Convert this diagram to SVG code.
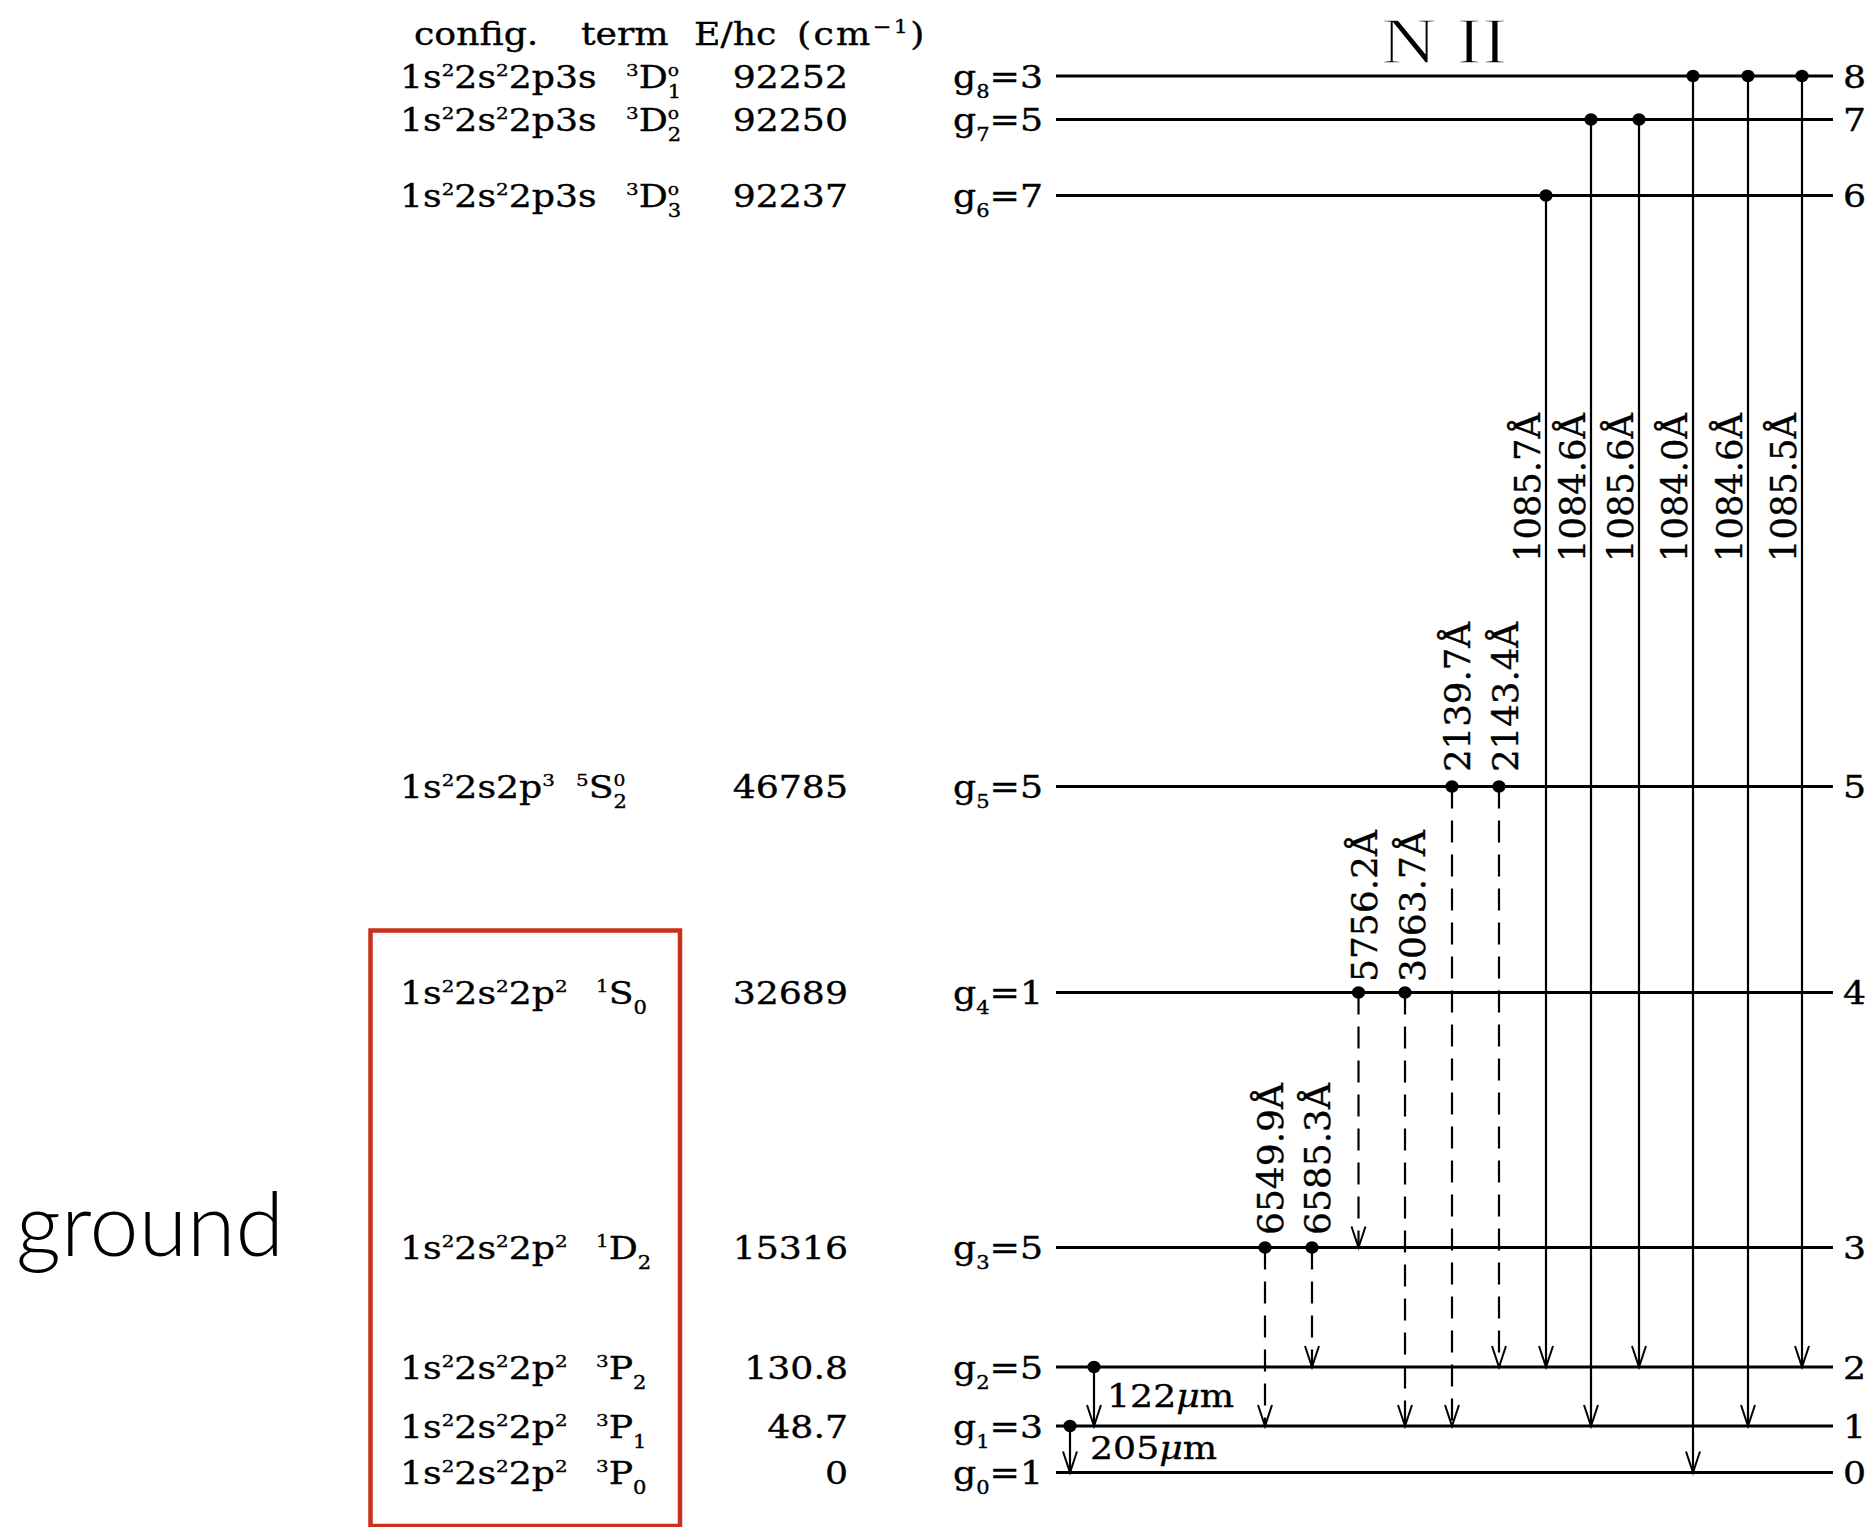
<svg xmlns="http://www.w3.org/2000/svg" width="1875" height="1527" viewBox="0 0 1875 1527">
<style>
.t{font-family:"DejaVu Serif",serif;font-size:31px;fill:#000;stroke:#000;stroke-width:0.35}
.sp{font-size:17px}
.sb{font-size:18px}
.so{font-size:16px}
.lv{stroke:#000;stroke-width:2.8;fill:none}
.tr{stroke:#000;stroke-width:2.2;fill:none;marker-end:url(#ah)}
.ds{stroke-dasharray:22 12}
.dot{fill:#000}
.wl{font-family:"DejaVu Serif",serif;font-size:31px;fill:#000;stroke:#000;stroke-width:0.3}
</style>
<defs>
<marker id="ah" markerUnits="userSpaceOnUse" markerWidth="30" markerHeight="30" refX="0" refY="0" orient="auto" viewBox="-25 -10 30 20" overflow="visible">
<path d="M-21,-7 L0,0 L-21,7" fill="none" stroke="#000" stroke-width="2" stroke-dasharray="none"/>
</marker>
</defs>
<rect width="1875" height="1527" fill="#fff"/>

<text x="16" y="1256" font-family="Lato,'Open Sans',sans-serif" font-weight="300" font-size="88" fill="#000">ground</text>
<rect x="370.5" y="930.5" width="309.5" height="595.5" fill="none" stroke="#c8311c" stroke-width="4.5"/>

<text transform="matrix(1.19 0 0 1 1381 63)" font-family="'Liberation Serif',serif" font-size="65" fill="#000" stroke="#fff" stroke-width="1.6">N II</text>

<g id="header">
<text class="t" transform="matrix(1.17 0 0 1 414 45)">config.</text>
<text class="t" transform="matrix(1.17 0 0 1 581 45)">term</text>
<text class="t" transform="matrix(1.17 0 0 1 694 45)">E/hc</text>
<text class="t" letter-spacing="2" transform="matrix(1.17 0 0 1 797 45)">(cm<tspan font-size="19px" dy="-12">−1</tspan><tspan dy="12">)</tspan></text>
</g>

<g id="level8">
<line class="lv" x1="1056" y1="76" x2="1833" y2="76"/>
<text class="t" transform="matrix(1.17 0 0 1 400 87.5)">1s<tspan class="sp" dy="-12">2</tspan><tspan dy="12">2s</tspan><tspan class="sp" dy="-12">2</tspan><tspan dy="12">2p3s</tspan></text>
<text class="t" transform="matrix(1.17 0 0 1 626 87.5)"><tspan class="sp" dy="-12">3</tspan><tspan dy="12">D</tspan><tspan class="so" dy="-12">o</tspan><tspan class="sb" dx="-9.6" dy="22">1</tspan></text>
<text class="t" text-anchor="end" transform="matrix(1.17 0 0 1 848 87.5)">92252</text>
<text class="t" text-anchor="end" transform="matrix(1.17 0 0 1 1043 87.5)">g<tspan class="sb" dy="10">8</tspan><tspan dy="-10">=3</tspan></text>
<text class="t" transform="matrix(1.17 0 0 1 1843 87.5)">8</text>
</g>

<g id="level7">
<line class="lv" x1="1056" y1="119.5" x2="1833" y2="119.5"/>
<text class="t" transform="matrix(1.17 0 0 1 400 131)">1s<tspan class="sp" dy="-12">2</tspan><tspan dy="12">2s</tspan><tspan class="sp" dy="-12">2</tspan><tspan dy="12">2p3s</tspan></text>
<text class="t" transform="matrix(1.17 0 0 1 626 131)"><tspan class="sp" dy="-12">3</tspan><tspan dy="12">D</tspan><tspan class="so" dy="-12">o</tspan><tspan class="sb" dx="-9.6" dy="22">2</tspan></text>
<text class="t" text-anchor="end" transform="matrix(1.17 0 0 1 848 131)">92250</text>
<text class="t" text-anchor="end" transform="matrix(1.17 0 0 1 1043 131)">g<tspan class="sb" dy="10">7</tspan><tspan dy="-10">=5</tspan></text>
<text class="t" transform="matrix(1.17 0 0 1 1843 131)">7</text>
</g>

<g id="level6">
<line class="lv" x1="1056" y1="195.5" x2="1833" y2="195.5"/>
<text class="t" transform="matrix(1.17 0 0 1 400 207)">1s<tspan class="sp" dy="-12">2</tspan><tspan dy="12">2s</tspan><tspan class="sp" dy="-12">2</tspan><tspan dy="12">2p3s</tspan></text>
<text class="t" transform="matrix(1.17 0 0 1 626 207)"><tspan class="sp" dy="-12">3</tspan><tspan dy="12">D</tspan><tspan class="so" dy="-12">o</tspan><tspan class="sb" dx="-9.6" dy="22">3</tspan></text>
<text class="t" text-anchor="end" transform="matrix(1.17 0 0 1 848 207)">92237</text>
<text class="t" text-anchor="end" transform="matrix(1.17 0 0 1 1043 207)">g<tspan class="sb" dy="10">6</tspan><tspan dy="-10">=7</tspan></text>
<text class="t" transform="matrix(1.17 0 0 1 1843 207)">6</text>
</g>

<g id="level5">
<line class="lv" x1="1056" y1="786.5" x2="1833" y2="786.5"/>
<text class="t" transform="matrix(1.17 0 0 1 400 798)">1s<tspan class="sp" dy="-12">2</tspan><tspan dy="12">2s2p</tspan><tspan class="sp" dy="-12">3</tspan></text>
<text class="t" transform="matrix(1.17 0 0 1 576 798)"><tspan class="sp" dy="-12">5</tspan><tspan dy="12">S</tspan><tspan class="so" dy="-12">0</tspan><tspan class="sb" dx="-10.2" dy="22">2</tspan></text>
<text class="t" text-anchor="end" transform="matrix(1.17 0 0 1 848 798)">46785</text>
<text class="t" text-anchor="end" transform="matrix(1.17 0 0 1 1043 798)">g<tspan class="sb" dy="10">5</tspan><tspan dy="-10">=5</tspan></text>
<text class="t" transform="matrix(1.17 0 0 1 1843 798)">5</text>
</g>

<g id="level4">
<line class="lv" x1="1056" y1="992.5" x2="1833" y2="992.5"/>
<text class="t" transform="matrix(1.17 0 0 1 400 1004)">1s<tspan class="sp" dy="-12">2</tspan><tspan dy="12">2s</tspan><tspan class="sp" dy="-12">2</tspan><tspan dy="12">2p</tspan><tspan class="sp" dy="-12">2</tspan></text>
<text class="t" transform="matrix(1.17 0 0 1 596 1004)"><tspan class="sp" dy="-12">1</tspan><tspan dy="12">S</tspan><tspan class="sb" dy="10">0</tspan></text>
<text class="t" text-anchor="end" transform="matrix(1.17 0 0 1 848 1004)">32689</text>
<text class="t" text-anchor="end" transform="matrix(1.17 0 0 1 1043 1004)">g<tspan class="sb" dy="10">4</tspan><tspan dy="-10">=1</tspan></text>
<text class="t" transform="matrix(1.17 0 0 1 1843 1004)">4</text>
</g>

<g id="level3">
<line class="lv" x1="1056" y1="1247.5" x2="1833" y2="1247.5"/>
<text class="t" transform="matrix(1.17 0 0 1 400 1259)">1s<tspan class="sp" dy="-12">2</tspan><tspan dy="12">2s</tspan><tspan class="sp" dy="-12">2</tspan><tspan dy="12">2p</tspan><tspan class="sp" dy="-12">2</tspan></text>
<text class="t" transform="matrix(1.17 0 0 1 596 1259)"><tspan class="sp" dy="-12">1</tspan><tspan dy="12">D</tspan><tspan class="sb" dy="10">2</tspan></text>
<text class="t" text-anchor="end" transform="matrix(1.17 0 0 1 848 1259)">15316</text>
<text class="t" text-anchor="end" transform="matrix(1.17 0 0 1 1043 1259)">g<tspan class="sb" dy="10">3</tspan><tspan dy="-10">=5</tspan></text>
<text class="t" transform="matrix(1.17 0 0 1 1843 1259)">3</text>
</g>

<g id="level2">
<line class="lv" x1="1056" y1="1367" x2="1833" y2="1367"/>
<text class="t" transform="matrix(1.17 0 0 1 400 1378.5)">1s<tspan class="sp" dy="-12">2</tspan><tspan dy="12">2s</tspan><tspan class="sp" dy="-12">2</tspan><tspan dy="12">2p</tspan><tspan class="sp" dy="-12">2</tspan></text>
<text class="t" transform="matrix(1.17 0 0 1 596 1378.5)"><tspan class="sp" dy="-12">3</tspan><tspan dy="12">P</tspan><tspan class="sb" dy="10">2</tspan></text>
<text class="t" text-anchor="end" transform="matrix(1.17 0 0 1 848 1378.5)">130.8</text>
<text class="t" text-anchor="end" transform="matrix(1.17 0 0 1 1043 1378.5)">g<tspan class="sb" dy="10">2</tspan><tspan dy="-10">=5</tspan></text>
<text class="t" transform="matrix(1.17 0 0 1 1843 1378.5)">2</text>
</g>

<g id="level1">
<line class="lv" x1="1056" y1="1426" x2="1833" y2="1426"/>
<text class="t" transform="matrix(1.17 0 0 1 400 1437.5)">1s<tspan class="sp" dy="-12">2</tspan><tspan dy="12">2s</tspan><tspan class="sp" dy="-12">2</tspan><tspan dy="12">2p</tspan><tspan class="sp" dy="-12">2</tspan></text>
<text class="t" transform="matrix(1.17 0 0 1 596 1437.5)"><tspan class="sp" dy="-12">3</tspan><tspan dy="12">P</tspan><tspan class="sb" dy="10">1</tspan></text>
<text class="t" text-anchor="end" transform="matrix(1.17 0 0 1 848 1437.5)">48.7</text>
<text class="t" text-anchor="end" transform="matrix(1.17 0 0 1 1043 1437.5)">g<tspan class="sb" dy="10">1</tspan><tspan dy="-10">=3</tspan></text>
<text class="t" transform="matrix(1.17 0 0 1 1843 1437.5)">1</text>
</g>

<g id="level0">
<line class="lv" x1="1056" y1="1472.5" x2="1833" y2="1472.5"/>
<text class="t" transform="matrix(1.17 0 0 1 400 1484)">1s<tspan class="sp" dy="-12">2</tspan><tspan dy="12">2s</tspan><tspan class="sp" dy="-12">2</tspan><tspan dy="12">2p</tspan><tspan class="sp" dy="-12">2</tspan></text>
<text class="t" transform="matrix(1.17 0 0 1 596 1484)"><tspan class="sp" dy="-12">3</tspan><tspan dy="12">P</tspan><tspan class="sb" dy="10">0</tspan></text>
<text class="t" text-anchor="end" transform="matrix(1.17 0 0 1 848 1484)">0</text>
<text class="t" text-anchor="end" transform="matrix(1.17 0 0 1 1043 1484)">g<tspan class="sb" dy="10">0</tspan><tspan dy="-10">=1</tspan></text>
<text class="t" transform="matrix(1.17 0 0 1 1843 1484)">0</text>
</g>

<g id="connectors">
<line class="tr" x1="1693" y1="76" x2="1693" y2="1472.5"/>
<line class="tr" x1="1748" y1="76" x2="1748" y2="1426"/>
<line class="tr" x1="1802" y1="76" x2="1802" y2="1367"/>
<line class="tr" x1="1591" y1="119.5" x2="1591" y2="1426"/>
<line class="tr" x1="1639" y1="119.5" x2="1639" y2="1367"/>
<line class="tr" x1="1546" y1="195.5" x2="1546" y2="1367"/>
<line class="tr ds" x1="1452" y1="786.5" x2="1452" y2="1426"/>
<line class="tr ds" x1="1499" y1="786.5" x2="1499" y2="1367"/>
<line class="tr ds" x1="1358.5" y1="992.5" x2="1358.5" y2="1247.5"/>
<line class="tr ds" x1="1405" y1="992.5" x2="1405" y2="1426"/>
<line class="tr ds" x1="1265" y1="1247.5" x2="1265" y2="1426"/>
<line class="tr ds" x1="1312" y1="1247.5" x2="1312" y2="1367"/>
<line class="tr" x1="1094" y1="1367" x2="1094" y2="1426"/>
<line class="tr" x1="1070" y1="1426" x2="1070" y2="1472.5"/>

<ellipse class="dot" cx="1693" cy="76" rx="6.6" ry="6.2"/>
<ellipse class="dot" cx="1748" cy="76" rx="6.6" ry="6.2"/>
<ellipse class="dot" cx="1802" cy="76" rx="6.6" ry="6.2"/>
<ellipse class="dot" cx="1591" cy="119.5" rx="6.6" ry="6.2"/>
<ellipse class="dot" cx="1639" cy="119.5" rx="6.6" ry="6.2"/>
<ellipse class="dot" cx="1546" cy="195.5" rx="6.6" ry="6.2"/>
<ellipse class="dot" cx="1452" cy="786.5" rx="6.6" ry="6.2"/>
<ellipse class="dot" cx="1499" cy="786.5" rx="6.6" ry="6.2"/>
<ellipse class="dot" cx="1358.5" cy="992.5" rx="6.6" ry="6.2"/>
<ellipse class="dot" cx="1405" cy="992.5" rx="6.6" ry="6.2"/>
<ellipse class="dot" cx="1265" cy="1247.5" rx="6.6" ry="6.2"/>
<ellipse class="dot" cx="1312" cy="1247.5" rx="6.6" ry="6.2"/>
<ellipse class="dot" cx="1094" cy="1367" rx="6.6" ry="6.2"/>
<ellipse class="dot" cx="1070" cy="1426" rx="6.6" ry="6.2"/>

<text class="wl" transform="matrix(0 -1 1.17 0 1540 562)" textLength="149" lengthAdjust="spacingAndGlyphs">1085.7Å</text>
<text class="wl" transform="matrix(0 -1 1.17 0 1585 562)" textLength="149" lengthAdjust="spacingAndGlyphs">1084.6Å</text>
<text class="wl" transform="matrix(0 -1 1.17 0 1633 562)" textLength="149" lengthAdjust="spacingAndGlyphs">1085.6Å</text>
<text class="wl" transform="matrix(0 -1 1.17 0 1687 562)" textLength="149" lengthAdjust="spacingAndGlyphs">1084.0Å</text>
<text class="wl" transform="matrix(0 -1 1.17 0 1742 562)" textLength="149" lengthAdjust="spacingAndGlyphs">1084.6Å</text>
<text class="wl" transform="matrix(0 -1 1.17 0 1796 562)" textLength="149" lengthAdjust="spacingAndGlyphs">1085.5Å</text>
<text class="wl" transform="matrix(0 -1 1.17 0 1470 772)" textLength="150" lengthAdjust="spacingAndGlyphs">2139.7Å</text>
<text class="wl" transform="matrix(0 -1 1.17 0 1518 772)" textLength="150" lengthAdjust="spacingAndGlyphs">2143.4Å</text>
<text class="wl" transform="matrix(0 -1 1.17 0 1377 982)" textLength="152" lengthAdjust="spacingAndGlyphs">5756.2Å</text>
<text class="wl" transform="matrix(0 -1 1.17 0 1425 982)" textLength="152" lengthAdjust="spacingAndGlyphs">3063.7Å</text>
<text class="wl" transform="matrix(0 -1 1.17 0 1283 1235)" textLength="152" lengthAdjust="spacingAndGlyphs">6549.9Å</text>
<text class="wl" transform="matrix(0 -1 1.17 0 1330 1235)" textLength="152" lengthAdjust="spacingAndGlyphs">6585.3Å</text>

<text class="t" font-size="32" transform="matrix(1.17 0 0 1 1107 1407)">122<tspan font-style="italic">μ</tspan>m</text>
<text class="t" font-size="32" transform="matrix(1.17 0 0 1 1090 1459)">205<tspan font-style="italic">μ</tspan>m</text>
</g>
</svg>
